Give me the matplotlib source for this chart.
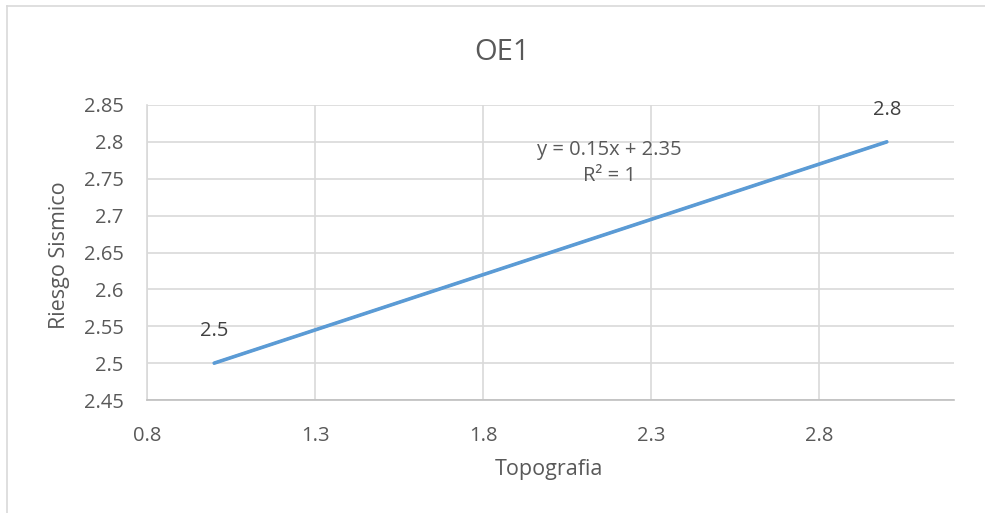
import matplotlib.pyplot as plt
import numpy as np

plt.rcParams['font.family'] = ['Open Sans', 'DejaVu Sans']

# datos
topografia = [1.0, 3.0]
riesgo = [2.5, 2.8]
pendiente = 0.15
intercepto = 2.35
r2 = 1
x_ticks = [0.8, 1.3, 1.8, 2.3, 2.8]
y_ticks = [2.45, 2.5, 2.55, 2.6, 2.65, 2.7, 2.75, 2.8, 2.85]

W, H = 985, 513
fig = plt.figure(figsize=(W / 100, H / 100), dpi=100)
ax = fig.add_axes([147 / W, 1 - 400 / H, (954 - 147) / W, (400 - 105) / H])

# borde exterior del grafico
fig.add_artist(plt.Line2D([7 / W, 1], [1 - 6 / H, 1 - 6 / H], color='#d9d9d9', lw=1.2))
fig.add_artist(plt.Line2D([7 / W, 7 / W], [0, 1 - 6 / H], color='#d9d9d9', lw=1.2))

ax.plot(topografia, riesgo, color='#5b9bd5', lw=2.6, solid_capstyle='round', zorder=3)
xt = np.array(topografia)
ax.plot(xt, pendiente * xt + intercepto, color='#5b9bd5', lw=1.8, zorder=4)

ax.set_xlim(0.8, 3.2)
ax.set_ylim(2.45, 2.85)
ax.set_xticks(x_ticks)
ax.set_yticks(y_ticks)
ax.set_xticklabels([f'{v:g}' for v in x_ticks])
ax.set_yticklabels([f'{v:g}' for v in y_ticks])
ax.grid(True, color='#d9d9d9', lw=1.2)
ax.set_axisbelow(True)
for s in ['top', 'right']:
    ax.spines[s].set_visible(False)
ax.spines['left'].set_color('#d9d9d9')
ax.spines['left'].set_linewidth(1.2)
ax.spines['bottom'].set_color('#bfbfbf')
ax.spines['bottom'].set_linewidth(1.2)
ax.tick_params(length=0, labelsize=14.5, labelcolor='#595959')
ax.tick_params(axis='x', pad=19)
ax.tick_params(axis='y', pad=17)

for x, y in zip(topografia, riesgo):
    ax.annotate(f'{y:g}', (x, y), xytext=(0, 23), textcoords='offset points',
                ha='center', va='center', fontsize=14.5, color='#404040')

ax.text(2.174, 2.772, f'y = {pendiente:g}x + {intercepto:g}\nR² = {r2}', ha='center',
        va='center', fontsize=14.5, color='#595959', linespacing=1.4)

fig.text(502 / W, 1 - 52 / H, 'OE1', ha='center', va='center', fontsize=21, color='#595959')
fig.text(549 / W, 1 - 470 / H, 'Topografia', ha='center', va='center', fontsize=15.5, color='#595959')
fig.text(60 / W, 1 - 255 / H, 'Riesgo Sismico', ha='center', va='center', rotation=90,
         fontsize=15.5, color='#595959')

fig.savefig('out.png', dpi=100)
